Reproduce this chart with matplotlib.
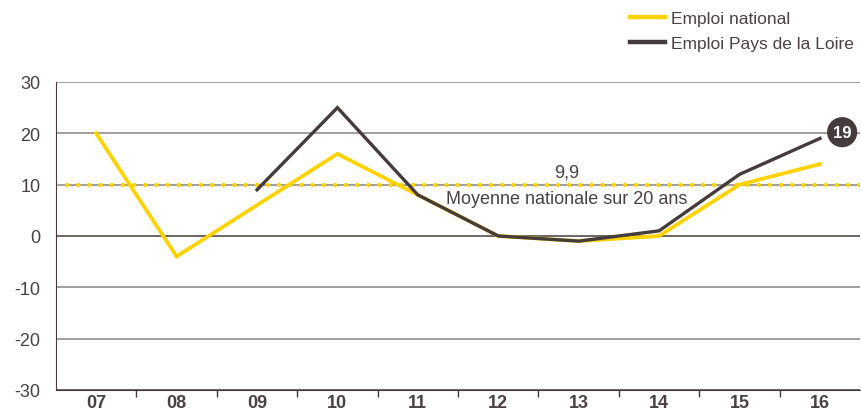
import numpy as np
import matplotlib.pyplot as plt

# data
years = ["07", "08", "09", "10", "11", "12", "13", "14", "15", "16"]
national = [20, -4, 6, 16, 8, 0, -1, 0, 10, 14]
pdl_years = ["09", "10", "11", "12", "13", "14", "15", "16"]
pdl = [9, 25, 8, 0, -1, 1, 12, 19]
mean_20y = 9.9
yticks = [-30, -20, -10, 0, 10, 20, 30]

YELLOW = "#FFD200"
DARK = "#463B3B"
GRID = "#8a8484"
TXT = "#4a4242"

plt.rcParams["font.family"] = ["Liberation Sans", "DejaVu Sans"]

fig = plt.figure(figsize=(8.61, 4.14), dpi=100)
ax = fig.add_axes([0.065, 0.0556, 0.934, 0.744])

x_nat = np.arange(len(years))
x_pdl = np.array([years.index(y) for y in pdl_years])

# grid
for v in yticks:
    ax.axhline(v, color=DARK if v in (0, -30) else GRID, lw=1.1, zorder=1)

# 20-year average
ax.axhline(mean_20y, color=YELLOW, lw=3.2, ls=(0, (0.01, 2.5)),
           dash_capstyle="round", zorder=2)
ax.text(5.85, mean_20y + 1.0, "9,9", ha="center", va="bottom", fontsize=13, color=TXT)
ax.text(5.85, mean_20y - 1.0, "Moyenne nationale sur 20 ans", ha="center", va="top",
        fontsize=13, color=TXT)

l1, = ax.plot(x_nat, national, color=YELLOW, lw=2.7, solid_joinstyle="miter", zorder=3,
              label="Emploi national")
l2, = ax.plot(x_pdl, pdl, color=DARK, lw=2.4, solid_joinstyle="miter", zorder=4,
              label="Emploi Pays de la Loire")

# badge on last value
ax.annotate(str(pdl[-1]), xy=(x_pdl[-1], pdl[-1]), xytext=(16, 4.5), textcoords="offset points",
            ha="center", va="center", fontsize=12, fontweight="bold", color="white",
            bbox=dict(boxstyle="circle,pad=0.35", fc=DARK, ec="none"), annotation_clip=False)

ax.set_xlim(-0.5, len(years) - 0.5)
ax.set_ylim(-30, 30)
ax.set_yticks(yticks)
ax.set_yticklabels([str(v) for v in yticks], fontsize=13, color=TXT)
ax.tick_params(axis="y", length=0, pad=11)

ax.set_xticks(x_nat)
ax.set_xticklabels(years, fontsize=13, fontweight="bold", color=TXT)
ax.tick_params(axis="x", which="major", length=0, pad=3)
ax.set_xticks(np.arange(0.5, len(years) - 0.5), minor=True)
ax.tick_params(axis="x", which="minor", length=5, width=1, color=DARK, direction="out")

for s in ["top", "right"]:
    ax.spines[s].set_visible(False)
ax.spines["left"].set_color(DARK)
ax.spines["bottom"].set_color(DARK)

leg = fig.legend(handles=[l1, l2], loc="upper left", bbox_to_anchor=(0.718, 1.0), frameon=False,
                 fontsize=12.5, handlelength=2.0, handletextpad=0.35, labelspacing=0.55,
                 labelcolor=TXT, borderaxespad=0.3)
for h in leg.legend_handles:
    h.set_linewidth(3.2)

fig.savefig("out.png", dpi=100)
